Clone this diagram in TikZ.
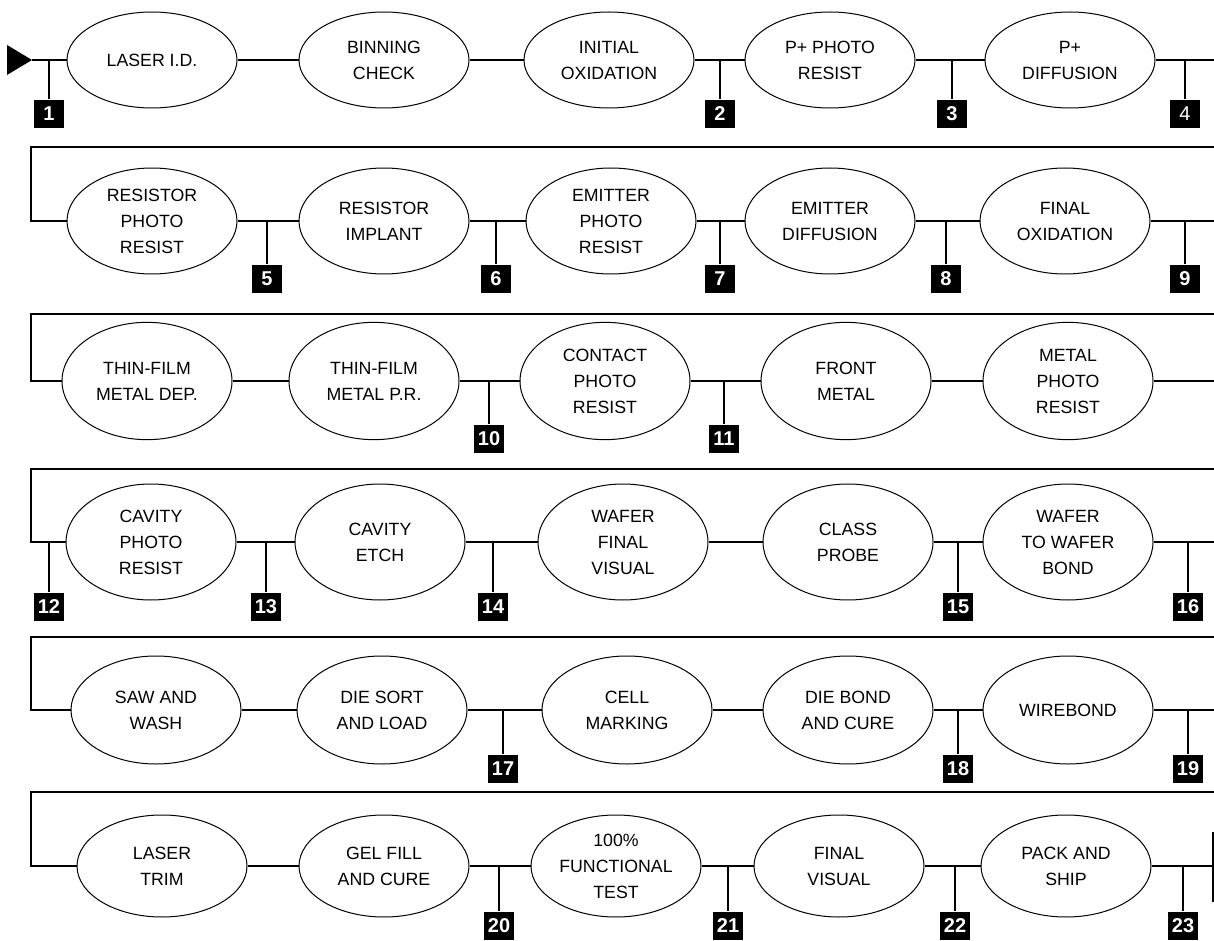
\documentclass[tikz,border=0pt]{standalone}
\usepackage{fontspec}
\setmainfont{Liberation Sans}
\usetikzlibrary{shapes.geometric}
\newcommand{\mkproc}[5]{%
  \node[proc, minimum height=#4] (#1) at (#2,#3) {};
  \node[txt] (#1t) at (#1.center) {#5};}
\newcommand{\mktick}[5]{%
  \coordinate (#1) at (#2,#3);
  \node[num] (#1L) at (#2,#4) {#5};
  \draw[tickline] (#1) -- (#1L.north);}
\begin{document}
\begin{tikzpicture}[x=0.75pt,y=-0.75pt,
  proc/.style={draw, ellipse, line width=0.75pt, inner sep=0pt, minimum width=127.5pt, fill=white},
  txt/.style={align=center, font=\fontsize{13.3}{19.5}\selectfont, inner sep=0pt},
  num/.style={fill=black, text=white, font=\fontsize{15}{15}\selectfont\bfseries, minimum width=22.5pt, minimum height=21.5pt, inner sep=0pt},
  flow/.style={line width=1.5pt},
  ret/.style={line width=1.9pt, line join=miter},
  tickline/.style={line width=1.5pt}]
\useasboundingbox (0,0) rectangle (1214,941);

% row 1
\mkproc{a1}{152}{60}{72pt}{LASER I.D.}
\mkproc{a2}{384}{60}{72pt}{BINNING\\CHECK}
\mkproc{a3}{609}{60}{72pt}{INITIAL\\OXIDATION}
\mkproc{a4}{830}{60}{72pt}{P+ PHOTO\\RESIST}
\mkproc{a5}{1070}{60}{72pt}{P+\\DIFFUSION}
% row 2
\mkproc{b1}{152}{221}{79.5pt}{RESISTOR\\PHOTO\\RESIST}
\mkproc{b2}{384}{221}{79.5pt}{RESISTOR\\IMPLANT}
\mkproc{b3}{611}{221}{79.5pt}{EMITTER\\PHOTO\\RESIST}
\mkproc{b4}{830}{221}{79.5pt}{EMITTER\\DIFFUSION}
\mkproc{b5}{1065}{221}{79.5pt}{FINAL\\OXIDATION}
% row 3
\mkproc{c1}{147}{381}{88pt}{THIN-FILM\\METAL DEP.}
\mkproc{c2}{374}{381}{88pt}{THIN-FILM\\METAL P.R.}
\mkproc{c3}{605}{381}{88pt}{CONTACT\\PHOTO\\RESIST}
\mkproc{c4}{846}{381}{88pt}{FRONT\\METAL}
\mkproc{c5}{1068}{381}{88pt}{METAL\\PHOTO\\RESIST}
% row 4
\mkproc{d1}{151}{542}{87pt}{CAVITY\\PHOTO\\RESIST}
\mkproc{d2}{380}{542}{87pt}{CAVITY\\ETCH}
\mkproc{d3}{623}{542}{87pt}{WAFER\\FINAL\\VISUAL}
\mkproc{d4}{848}{542}{87pt}{CLASS\\PROBE}
\mkproc{d5}{1068}{542}{87pt}{WAFER\\TO WAFER\\BOND}
% row 5
\mkproc{e1}{156}{710}{81pt}{SAW AND\\WASH}
\mkproc{e2}{382}{710}{81pt}{DIE SORT\\AND LOAD}
\mkproc{e3}{627}{710}{81pt}{CELL\\MARKING}
\mkproc{e4}{848}{710}{81pt}{DIE BOND\\AND CURE}
\mkproc{e5}{1068}{710}{81pt}{WIREBOND}
% row 6
\mkproc{f1}{162}{866}{76.5pt}{LASER\\TRIM}
\mkproc{f2}{384}{866}{76.5pt}{GEL FILL\\AND CURE}
\mkproc{f3}{616}{866}{76.5pt}{100\%\\FUNCTIONAL\\TEST}
\mkproc{f4}{839}{866}{76.5pt}{FINAL\\VISUAL}
\mkproc{f5}{1066}{866}{76.5pt}{PACK AND\\SHIP}

% start arrow
\fill (7,45) -- (32,60) -- (7,75) -- cycle;
\coordinate (start) at (32,60);

% row end / return coordinates
\coordinate (a6) at (1214,60);
\coordinate (b6) at (1214,221);
\coordinate (c6) at (1214,381);
\coordinate (d6) at (1214,542);
\coordinate (e6) at (1214,710);
\coordinate (f6) at (1213,866);
\coordinate (r2a) at (1214,147); \coordinate (r2b) at (31,147); \coordinate (r2c) at (31,221);
\coordinate (r3a) at (1214,314); \coordinate (r3b) at (31,314); \coordinate (r3c) at (31,381);
\coordinate (r4a) at (1214,469); \coordinate (r4b) at (31,469); \coordinate (r4c) at (31,542);
\coordinate (r5a) at (1214,637); \coordinate (r5b) at (31,637); \coordinate (r5c) at (31,710);
\coordinate (r6a) at (1214,792); \coordinate (r6b) at (31,792); \coordinate (r6c) at (31,866);
\coordinate (endT) at (1213,832); \coordinate (endB) at (1213,902);

% flow lines
\draw[flow] (start) -- (a1) -- (a2) -- (a3) -- (a4) -- (a5) -- (a6);
\draw[ret] (r2a) -- (r2b) -- (r2c) -- (b1);
\draw[flow] (b1) -- (b2) -- (b3) -- (b4) -- (b5) -- (b6);
\draw[ret] (r3a) -- (r3b) -- (r3c) -- (c1);
\draw[flow] (c1) -- (c2) -- (c3) -- (c4) -- (c5) -- (c6);
\draw[ret] (r4a) -- (r4b) -- (r4c) -- (d1);
\draw[flow] (d1) -- (d2) -- (d3) -- (d4) -- (d5) -- (d6);
\draw[ret] (r5a) -- (r5b) -- (r5c) -- (e1);
\draw[flow] (e1) -- (e2) -- (e3) -- (e4) -- (e5) -- (e6);
\draw[ret] (r6a) -- (r6b) -- (r6c) -- (f1);
\draw[flow] (f1) -- (f2) -- (f3) -- (f4) -- (f5) -- (f6);
\draw[line width=1.8pt] (endT) -- (endB);

% inspection points
\mktick{k1}{49}{60}{114}{1}
\mktick{k2}{720}{60}{114}{2}
\mktick{k3}{952}{60}{114}{3}
\mktick{k4}{1185}{60}{114}{\mdseries 4}
\mktick{k5}{267}{221}{279}{5}
\mktick{k6}{496}{221}{279}{6}
\mktick{k7}{720}{221}{279}{7}
\mktick{k8}{946}{221}{279}{8}
\mktick{k9}{1185}{221}{279}{9}
\mktick{k10}{489}{381}{439}{10}
\mktick{k11}{724}{381}{439}{11}
\mktick{k12}{49}{542}{607}{12}
\mktick{k13}{266}{542}{607}{13}
\mktick{k14}{493}{542}{607}{14}
\mktick{k15}{958}{542}{607}{15}
\mktick{k16}{1188}{542}{607}{16}
\mktick{k17}{503}{710}{769}{17}
\mktick{k18}{958}{710}{769}{18}
\mktick{k19}{1188}{710}{769}{19}
\mktick{k20}{499}{866}{926}{20}
\mktick{k21}{728}{866}{926}{21}
\mktick{k22}{955}{866}{926}{22}
\mktick{k23}{1183}{866}{926}{23}
\end{tikzpicture}
\end{document}
